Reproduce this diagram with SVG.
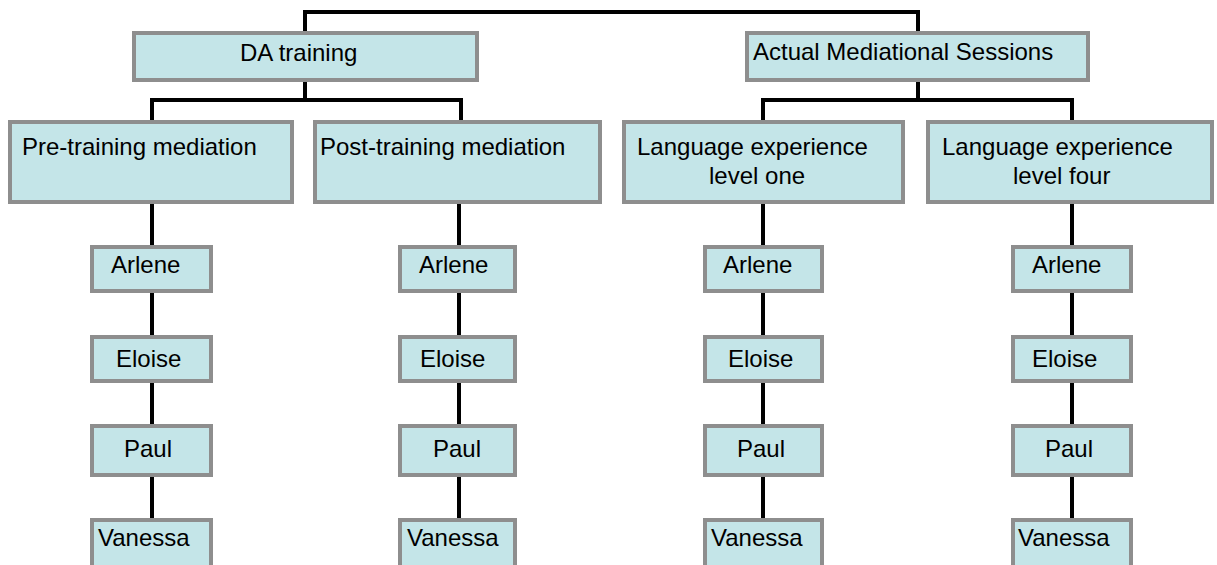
<svg xmlns="http://www.w3.org/2000/svg" width="1217" height="565" viewBox="0 0 1217 565">
<style>
.box{fill:#c4e5e8;stroke:#8e8e8e;stroke-width:4}
.t{font-family:"Liberation Sans",Arial,sans-serif;font-size:24px;fill:#000}
.c{fill:none;stroke:#000;stroke-width:4}
</style>
<rect width="1217" height="565" fill="#fff"/>
<g id="connectors">
<path class="c" d="M305 31V12H918V31"/>
<path class="c" d="M305 82V100M152 120V100H461V120"/>
<path class="c" d="M918 82V100M763 120V100H1072V120"/>
<path class="c" d="M152 204V247M152 291V337M152 381V426M152 475V520"/>
<path class="c" d="M459 204V247M459 291V337M459 381V426M459 475V520"/>
<path class="c" d="M763 204V247M763 291V337M763 381V426M763 475V520"/>
<path class="c" d="M1072 204V247M1072 291V337M1072 381V426M1072 475V520"/>
</g>
<g id="da-training"><rect class="box" x="134" y="33" width="343" height="47"/><text class="t" x="240" y="61">DA training</text></g>
<g id="actual-sessions"><rect class="box" x="747" y="33" width="341" height="47"/><text class="t" x="753" y="60">Actual Mediational Sessions</text></g>
<g id="pre-training"><rect class="box" x="10" y="122" width="282" height="80"/><text class="t" x="22" y="155">Pre-training mediation</text></g>
<g id="post-training"><rect class="box" x="315" y="122" width="285" height="80"/><text class="t" x="320" y="155">Post-training mediation</text></g>
<g id="lang-one"><rect class="box" x="624" y="122" width="279" height="80"/><text class="t" x="637" y="155">Language experience</text><text class="t" x="709" y="184">level one</text></g>
<g id="lang-four"><rect class="box" x="928" y="122" width="284" height="80"/><text class="t" x="942" y="155">Language experience</text><text class="t" x="1013" y="184">level four</text></g>
<g id="c1-arlene"><rect class="box" x="92" y="247" width="119" height="44"/><text class="t" x="111" y="273">Arlene</text></g>
<g id="c1-eloise"><rect class="box" x="92" y="337" width="119" height="44"/><text class="t" x="116" y="367">Eloise</text></g>
<g id="c1-paul"><rect class="box" x="92" y="426" width="119" height="49"/><text class="t" x="124" y="457">Paul</text></g>
<g id="c1-vanessa"><rect class="box" x="92" y="520" width="119" height="60"/><text class="t" x="98" y="546">Vanessa</text></g>
<g id="c2-arlene"><rect class="box" x="400" y="247" width="115" height="44"/><text class="t" x="419" y="273">Arlene</text></g>
<g id="c2-eloise"><rect class="box" x="400" y="337" width="115" height="44"/><text class="t" x="420" y="367">Eloise</text></g>
<g id="c2-paul"><rect class="box" x="400" y="426" width="115" height="49"/><text class="t" x="433" y="457">Paul</text></g>
<g id="c2-vanessa"><rect class="box" x="400" y="520" width="115" height="60"/><text class="t" x="407" y="546">Vanessa</text></g>
<g id="c3-arlene"><rect class="box" x="705" y="247" width="117" height="44"/><text class="t" x="723" y="273">Arlene</text></g>
<g id="c3-eloise"><rect class="box" x="705" y="337" width="117" height="44"/><text class="t" x="728" y="367">Eloise</text></g>
<g id="c3-paul"><rect class="box" x="705" y="426" width="117" height="49"/><text class="t" x="737" y="457">Paul</text></g>
<g id="c3-vanessa"><rect class="box" x="705" y="520" width="117" height="60"/><text class="t" x="711" y="546">Vanessa</text></g>
<g id="c4-arlene"><rect class="box" x="1013" y="247" width="118" height="44"/><text class="t" x="1032" y="273">Arlene</text></g>
<g id="c4-eloise"><rect class="box" x="1013" y="337" width="118" height="44"/><text class="t" x="1032" y="367">Eloise</text></g>
<g id="c4-paul"><rect class="box" x="1013" y="426" width="118" height="49"/><text class="t" x="1045" y="457">Paul</text></g>
<g id="c4-vanessa"><rect class="box" x="1013" y="520" width="118" height="60"/><text class="t" x="1018" y="546">Vanessa</text></g>
</svg>
